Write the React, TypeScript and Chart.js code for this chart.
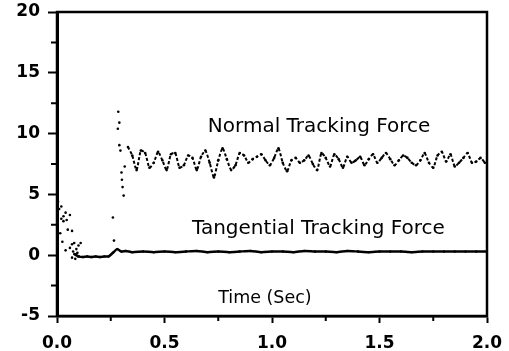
import React, { useEffect, useRef } from "react";
import { Chart, registerables } from "chart.js";

Chart.register(...registerables);

// X tick labels / axis ranges
const xTicks = [0, 0.5, 1.0, 1.5, 2.0];
const yTicks = [-5, 0, 5, 10, 15, 20];
const xMinorTicks = [0.25, 0.75, 1.25, 1.75];
const yMinorTicks = [-2.5, 2.5, 7.5, 12.5, 17.5];

// Normal tracking force: initial spike samples
const normalSpikeT = [0.285, 0.29, 0.283, 0.29, 0.295, 0.3, 0.305, 0.31, 0.302, 0.315];
const normalSpikeV = [11.8, 10.9, 10.4, 9.05, 8.6, 6.8, 5.6, 4.9, 6.2, 7.3];

// Normal tracking force: steady oscillation
const normalT = [
  0.33, 0.35, 0.37, 0.39, 0.41, 0.43, 0.45, 0.47, 0.49, 0.51, 0.53, 0.55, 0.57, 0.59,
  0.61, 0.63, 0.65, 0.67, 0.69, 0.71, 0.73, 0.75, 0.77, 0.79, 0.81, 0.83, 0.85, 0.87,
  0.89, 0.91, 0.93, 0.95, 0.97, 0.99, 1.01, 1.03, 1.05, 1.07, 1.09, 1.11, 1.13, 1.15,
  1.17, 1.19, 1.21, 1.23, 1.25, 1.27, 1.29, 1.31, 1.33, 1.35, 1.37, 1.39, 1.41, 1.43,
  1.45, 1.47, 1.49, 1.51, 1.53, 1.55, 1.57, 1.59, 1.61, 1.63, 1.65, 1.67, 1.69, 1.71,
  1.73, 1.75, 1.77, 1.79, 1.81, 1.83, 1.85, 1.87, 1.89, 1.91, 1.93, 1.95, 1.97, 1.99,
];
const normalV = [
  8.9, 8.2, 7.0, 8.6, 8.4, 7.2, 7.6, 8.5, 7.8, 7.0, 8.3, 8.4, 7.2, 7.4,
  8.2, 8.0, 7.0, 8.1, 8.6, 7.6, 6.4, 7.8, 8.8, 7.9, 7.0, 7.4, 8.4, 8.2,
  7.6, 7.9, 8.1, 8.3, 7.8, 7.4, 8.0, 8.8, 7.6, 6.9, 7.8, 8.0, 7.6, 7.8,
  8.2, 7.5, 7.0, 8.4, 8.0, 7.3, 8.3, 7.9, 7.2, 8.1, 7.6, 7.8, 8.1, 7.4,
  7.9, 8.3, 7.6, 8.0, 8.4, 7.9, 7.4, 7.8, 8.2, 8.0, 7.6, 7.4, 7.8, 8.4,
  7.6, 7.2, 8.2, 8.5, 7.7, 8.3, 7.3, 7.6, 8.0, 8.4, 7.6, 7.7, 8.0, 7.6,
];

// Tangential tracking force: early scattered samples
const tangScatterT = [
  0.005, 0.01, 0.02, 0.02, 0.03, 0.04, 0.045, 0.05, 0.06, 0.07, 0.03, 0.015, 0.025,
  0.04, 0.06, 0.07, 0.08, 0.09, 0.1, 0.07, 0.085, 0.095, 0.11, 0.1, 0.26, 0.265, 0.075, 0.09,
];
const tangScatterV = [
  4.4, 3.8, 4.0, 3.0, 3.2, 3.5, 2.9, 2.1, 3.3, 2.0, 2.8, 1.8, 1.1,
  0.4, 0.6, 0.9, 1.0, 0.5, 0.8, -0.2, -0.3, 0.2, 1.0, -0.1, 3.1, 1.2, 0.3, 0.1,
];

// Tangential tracking force: settled trace
const tangT = [
  0.08, 0.1, 0.12, 0.14, 0.16, 0.18, 0.2, 0.22, 0.24, 0.26, 0.28, 0.3, 0.32, 0.35,
  0.4, 0.45, 0.5, 0.55, 0.6, 0.65, 0.7, 0.75, 0.8, 0.85, 0.9, 0.95, 1.0, 1.05, 1.1,
  1.15, 1.2, 1.25, 1.3, 1.35, 1.4, 1.45, 1.5, 1.55, 1.6, 1.65, 1.7, 1.75, 1.8, 1.85,
  1.9, 1.95, 2.0,
];
const tangV = [
  0.1, -0.1, -0.15, -0.1, -0.15, -0.1, -0.15, -0.1, -0.1, 0.2, 0.5, 0.3, 0.35, 0.25,
  0.3, 0.25, 0.3, 0.25, 0.3, 0.35, 0.25, 0.3, 0.25, 0.3, 0.35, 0.25, 0.3, 0.3, 0.25,
  0.35, 0.3, 0.3, 0.25, 0.35, 0.3, 0.25, 0.3, 0.3, 0.3, 0.25, 0.3, 0.3, 0.3, 0.3,
  0.3, 0.3, 0.3,
];

// Annotation texts
const labels = [
  { text: "Normal Tracking Force", x: 1.219, y: 10.12, size: 20 },
  { text: "Tangential Tracking Force", x: 1.216, y: 1.73, size: 20 },
  { text: "Time (Sec)", x: 0.967, y: -3.95, size: 17.5 },
];

const zip = (t: number[], v: number[]) => t.map((x, i) => ({ x, y: v[i] }));

const framePlugin = {
  id: "frame",
  afterDraw(chart: any) {
    const { ctx, chartArea, scales } = chart;
    const { left, right, top, bottom } = chartArea;
    ctx.save();
    ctx.strokeStyle = "#000";
    ctx.lineWidth = 2.5;
    ctx.strokeRect(left, top, right - left, bottom - top);
    ctx.lineWidth = 2;
    ctx.beginPath();
    for (const v of yMinorTicks) {
      const y = scales.y.getPixelForValue(v);
      ctx.moveTo(left - 6, y);
      ctx.lineTo(left, y);
    }
    for (const v of xMinorTicks) {
      const x = scales.x.getPixelForValue(v);
      ctx.moveTo(x, bottom);
      ctx.lineTo(x, bottom + 5);
    }
    ctx.stroke();
    ctx.fillStyle = "#000";
    ctx.textAlign = "center";
    ctx.textBaseline = "alphabetic";
    for (const l of labels) {
      ctx.font = `${l.size}px "DejaVu Sans"`;
      ctx.fillText(l.text, scales.x.getPixelForValue(l.x), scales.y.getPixelForValue(l.y));
    }
    ctx.restore();
  },
};

const bgPlugin = {
  id: "bg",
  beforeDraw(chart: any) {
    const { ctx, width, height } = chart;
    ctx.save();
    ctx.fillStyle = "#fff";
    ctx.fillRect(0, 0, width, height);
    ctx.restore();
  },
};

export default function App() {
  const ref = useRef<HTMLCanvasElement>(null);
  useEffect(() => {
    if (!ref.current) return;
    const tickFont = { family: "DejaVu Sans", size: 17, weight: "bold" as const };
    const chart = new Chart(ref.current, {
      type: "scatter",
      data: {
        datasets: [
          {
            data: zip(normalSpikeT, normalSpikeV),
            pointRadius: 1.3,
            pointBackgroundColor: "#000",
            pointBorderWidth: 0,
            showLine: false,
          },
          {
            data: zip(normalT, normalV),
            showLine: true,
            borderColor: "#000",
            borderWidth: 2,
            borderDash: [3, 2],
            pointRadius: 1.3,
            pointBackgroundColor: "#000",
            pointBorderWidth: 0,
            tension: 0.2,
          },
          {
            data: zip(tangScatterT, tangScatterV),
            pointRadius: 1.3,
            pointBackgroundColor: "#000",
            pointBorderWidth: 0,
            showLine: false,
          },
          {
            data: zip(tangT, tangV),
            showLine: true,
            borderColor: "#000",
            borderWidth: 2.5,
            pointRadius: 1.2,
            pointBackgroundColor: "#000",
            pointBorderWidth: 0,
            tension: 0.2,
          },
        ],
      },
      options: {
        animation: false,
        responsive: false,
        layout: { padding: { top: 12, right: 22, left: 0, bottom: 0 } },
        plugins: { legend: { display: false }, tooltip: { enabled: false } },
        scales: {
          x: {
            type: "linear",
            min: 0,
            max: 2,
            afterBuildTicks: (s: any) => {
              s.ticks = xTicks.map((value) => ({ value }));
            },
            afterFit: (s: any) => {
              s.height = 35;
              s.paddingLeft = 0;
              s.paddingRight = 0;
            },
            ticks: {
              callback: (v: any) => Number(v).toFixed(1),
              font: tickFont,
              color: "#000",
              padding: 10,
              maxRotation: 0,
            },
            grid: {
              drawOnChartArea: false,
              drawTicks: true,
              tickLength: 7,
              tickColor: "#000",
              tickWidth: 2,
            },
            border: { display: true, color: "#000", width: 2.5 },
          },
          y: {
            type: "linear",
            min: -5,
            max: 20,
            afterBuildTicks: (s: any) => {
              s.ticks = yTicks.map((value) => ({ value }));
            },
            afterFit: (s: any) => {
              s.width = 57;
              s.paddingTop = 0;
              s.paddingBottom = 0;
            },
            ticks: {
              font: tickFont,
              color: "#000",
              padding: 8,
            },
            grid: {
              drawOnChartArea: false,
              drawTicks: true,
              tickLength: 9,
              tickColor: "#000",
              tickWidth: 2,
            },
            border: { display: true, color: "#000", width: 3 },
          },
        },
      },
      plugins: [bgPlugin, framePlugin],
    });
    return () => chart.destroy();
  }, []);
  return (
    <div style={{ position: "fixed", left: 0, top: 0, width: 509, height: 351, background: "#fff" }}>
      <canvas ref={ref} width={509} height={351} style={{ display: "block" }} />
    </div>
  );
}
